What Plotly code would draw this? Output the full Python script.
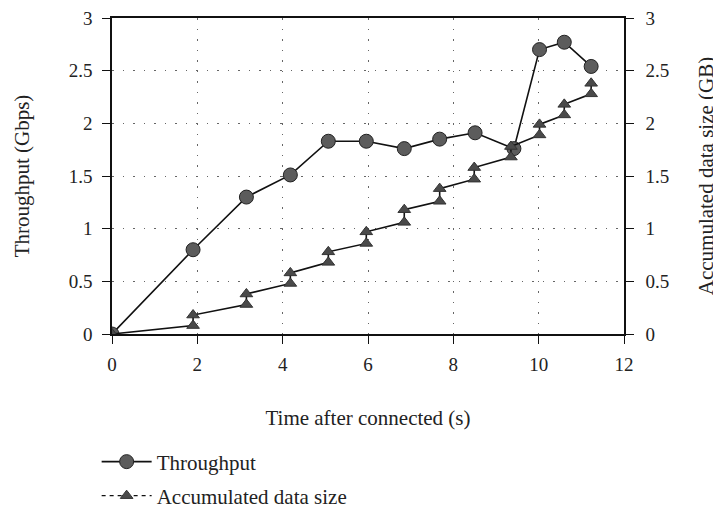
import plotly.graph_objects as go

# Throughput (Gbps) vs time
tp_time = [0, 1.9, 3.15, 4.18, 5.07, 5.96, 6.85, 7.68, 8.51, 9.42, 10.02, 10.6, 11.23]
tp_value = [0, 0.80, 1.30, 1.51, 1.83, 1.83, 1.76, 1.85, 1.91, 1.76, 2.70, 2.77, 2.54]

# Accumulated data size (GB): each time has a lower and an upper reading
acc_time = [0, 1.9, 3.15, 4.18, 5.07, 5.96, 6.85, 7.68, 8.49, 9.35, 10.02, 10.6, 11.23]
acc_low = [0, 0.08, 0.28, 0.48, 0.68, 0.86, 1.06, 1.26, 1.47, 1.68, 1.89, 2.08, 2.28]
acc_high = [0, 0.18, 0.38, 0.58, 0.78, 0.97, 1.18, 1.38, 1.58, 1.78, 1.99, 2.18, 2.38]

x_ticks = [0, 2, 4, 6, 8, 10, 12]
y_ticks = [0, 0.5, 1, 1.5, 2, 2.5, 3]
y_tick_text = ["0", "0.5", "1", "1.5", "2", "2.5", "3"]

acc_x, acc_y = [], []
for t, lo, hi in zip(acc_time, acc_low, acc_high):
    if lo == hi:
        acc_x.append(t); acc_y.append(lo)
    else:
        acc_x += [t, t]; acc_y += [lo, hi]

FONT = "Liberation Serif"
FS = 19
TFS = 21
fig = go.Figure()
fig.add_trace(go.Scatter(
    x=tp_time, y=tp_value, mode="lines+markers", name="Throughput",
    line=dict(color="#111", width=1.6),
    marker=dict(symbol="circle", size=14, color="#5c5c5c", line=dict(color="#222", width=1)),
    legend="legend", yaxis="y"))
fig.add_trace(go.Scatter(
    x=acc_x, y=acc_y, mode="lines+markers", name="Accumulated data size",
    line=dict(color="#111", width=1.6),
    marker=dict(symbol="triangle-up", size=11, color="#4a4a4a", line=dict(color="#333", width=1)),
    showlegend=False, yaxis="y2"))
fig.add_trace(go.Scatter(
    x=[None], y=[None], mode="lines+markers", name="Accumulated data size",
    line=dict(color="#111", width=1.3, dash="4px,4px"),
    marker=dict(symbol="triangle-up", size=11, color="#4a4a4a", line=dict(color="#333", width=1)),
    legend="legend2", yaxis="y2"))

axis_common = dict(
    showline=True, linecolor="#111", linewidth=1.5,
    ticks="outside", ticklen=8, tickcolor="#111", tickwidth=1.2,
    tickfont=dict(family=FONT, size=FS, color="#222"),
    zeroline=False, automargin=False, ticklabeloverflow="allow",
)
grid = dict(showgrid=True, gridcolor="#666", griddash="1.5px,9px", gridwidth=1.3)
fig.update_layout(
    width=721, height=600,
    margin=dict(l=104, r=105, t=10, b=274),
    paper_bgcolor="white", plot_bgcolor="white",
    font=dict(family=FONT, size=FS, color="#222"),
    xaxis=dict(range=[0, 12], tickvals=x_ticks, mirror=True, ticklabelstandoff=4,
               title=dict(text="Time after connected (s)", font=dict(family=FONT, size=TFS), standoff=37),
               **grid, **axis_common),
    yaxis=dict(range=[0, 3], tickvals=y_ticks, ticktext=y_tick_text, ticklabelstandoff=6,
               title=dict(text="Throughput (Gbps)", font=dict(family=FONT, size=TFS), standoff=33),
               **grid, **axis_common),
    yaxis2=dict(range=[0, 3], tickvals=y_ticks, ticktext=y_tick_text, overlaying="y", side="right",
                showgrid=False, ticklabelstandoff=8,
                title=dict(text="Accumulated data size (GB)", font=dict(family=FONT, size=TFS), standoff=30),
                **axis_common),
    legend=dict(x=-0.03, y=-0.405, xanchor="left", yanchor="middle", bgcolor="rgba(0,0,0,0)",
                itemwidth=50, font=dict(family=FONT, size=TFS)),
    legend2=dict(x=-0.03, y=-0.5127, xanchor="left", yanchor="middle", bgcolor="rgba(0,0,0,0)",
                 itemwidth=50, font=dict(family=FONT, size=TFS)),
)
fig.write_html("out.html")
